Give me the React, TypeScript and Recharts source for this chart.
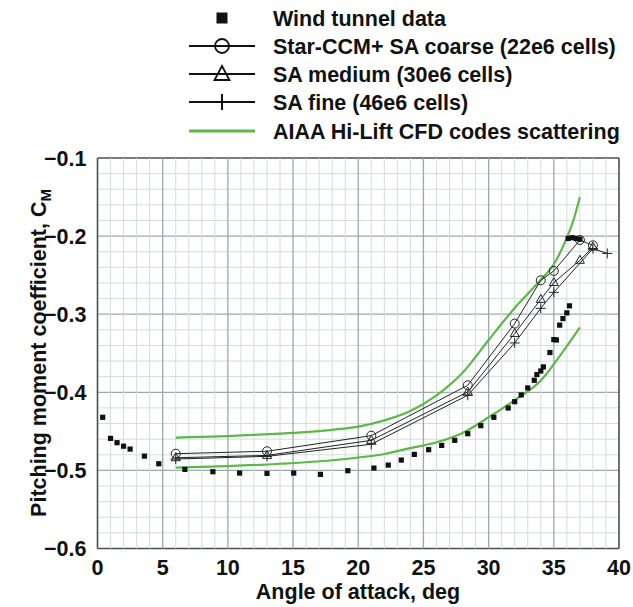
import React from 'react';
import { ComposedChart, Line, Scatter, XAxis, YAxis, CartesianGrid } from 'recharts';

const windTunnel = [
  [0.4, -0.432], [1.0, -0.459], [1.5, -0.4645], [2.0, -0.469], [2.5, -0.4727], [3.6, -0.4817], [4.7, -0.4915],
  [6.7, -0.4987], [8.85, -0.5017], [10.9, -0.5034], [13.0, -0.5038], [15.05, -0.5034], [17.1, -0.5051], [19.2, -0.5004],
  [21.2, -0.497], [22.3, -0.4932], [23.3, -0.4868], [24.3, -0.4795], [25.4, -0.4735], [26.4, -0.468], [27.4, -0.4615],
  [28.4, -0.453], [29.4, -0.4427], [30.4, -0.432], [31.5, -0.4201], [32.0, -0.412], [32.5, -0.4034], [33.0, -0.3944],
  [33.5, -0.3846], [33.7, -0.3773], [34.0, -0.3727], [34.2, -0.3675], [34.7, -0.3491], [35.0, -0.3325], [35.2, -0.333],
  [35.45, -0.314], [35.7, -0.3056], [36.0, -0.2983], [36.2, -0.2893], [36.1, -0.203], [36.4, -0.202], [36.7, -0.203], [37.0, -0.204],
];

const coarse = [
  [6, -0.4786], [13, -0.4755], [21, -0.4555], [28.4, -0.391], [32, -0.312], [34, -0.2566], [35, -0.2446], [37, -0.205], [38, -0.2118],
];
const medium = [
  [6, -0.4838], [13, -0.4808], [21, -0.4615], [28.4, -0.3996], [32, -0.3248], [34, -0.281], [35, -0.2595], [37, -0.231], [38, -0.214],
];
const fine = [
  [6, -0.4855], [13, -0.482], [21, -0.4665], [28.4, -0.4038], [32, -0.3368], [34, -0.2925], [35, -0.272], [38, -0.216], [39.1, -0.2222],
];
const greenUpper = [
  [6, -0.458], [8, -0.457], [10, -0.456], [12, -0.4545], [14, -0.453], [16, -0.451], [18, -0.448], [20, -0.444], [22, -0.436],
  [24, -0.424], [26, -0.404], [28, -0.375], [30, -0.333], [32, -0.292], [34, -0.256], [35, -0.236], [36, -0.202], [36.5, -0.18], [37, -0.15],
];
const greenLower = [
  [6, -0.4965], [10, -0.4945], [14, -0.4915], [18, -0.487], [20, -0.4835], [22, -0.479], [24, -0.4715], [26, -0.464], [28, -0.452],
  [30, -0.432], [32, -0.41], [34, -0.385], [35, -0.364], [36, -0.341], [37, -0.317],
];

const xMajorTicks = [0, 5, 10, 15, 20, 25, 30, 35, 40];
const yMajorTicks = [-0.6, -0.5, -0.4, -0.3, -0.2, -0.1];
const xTicks = Array.from({ length: 41 }, (_, i) => i);
const yTicks = Array.from({ length: 26 }, (_, i) => +(-0.6 + i * 0.02).toFixed(2));

const legendItems = [
  { label: 'Wind tunnel data', kind: 'square' },
  { label: 'Star-CCM+ SA coarse (22e6 cells)', kind: 'circle' },
  { label: 'SA medium (30e6 cells)', kind: 'triangle' },
  { label: 'SA fine (46e6 cells)', kind: 'plus' },
  { label: 'AIAA Hi-Lift CFD codes scattering', kind: 'green' },
];

const toObj = (arr: number[][]) => arr.map(([x, y]) => ({ x, y }));

const FONT = '"Liberation Sans", Arial, Helvetica, sans-serif';
const FS = 21.5;
const GREEN = '#5cb847';
const MINOR = '#cfdedd';
const MAJOR = '#98abab';
const FRAME = '#4a4f4f';

function CircleDot(props: any) {
  const { cx, cy } = props;
  if (cx == null || cy == null) return null;
  return <circle cx={cx} cy={cy} r={4.5} fill="none" stroke="#222" strokeWidth={1} />;
}
function TriDot(props: any) {
  const { cx, cy } = props;
  if (cx == null || cy == null) return null;
  const r = 5;
  return (
    <polygon
      points={`${cx},${cy - r} ${cx - r * 0.9},${cy + r * 0.6} ${cx + r * 0.9},${cy + r * 0.6}`}
      fill="none"
      stroke="#222"
      strokeWidth={1}
    />
  );
}
function PlusDot(props: any) {
  const { cx, cy } = props;
  if (cx == null || cy == null) return null;
  return (
    <g stroke="#222" strokeWidth={1}>
      <line x1={cx - 5} y1={cy} x2={cx + 5} y2={cy} />
      <line x1={cx} y1={cy - 5} x2={cx} y2={cy + 5} />
    </g>
  );
}
function SquareShape(props: any) {
  const { cx, cy } = props;
  if (cx == null || cy == null) return null;
  return <rect x={cx - 2.6} y={cy - 2.6} width={5.2} height={5.2} fill="#111" />;
}

function gridLine(kind: 'h' | 'v') {
  return (props: any) => {
    const { x1, y1, x2, y2 } = props;
    let idx = props.index;
    if (idx == null && typeof props.key === 'string') idx = parseInt(props.key.split('-').pop(), 10);
    const count = kind === 'h' ? yTicks.length : xTicks.length;
    let stroke = MINOR;
    let w = 1;
    if (idx === 0 || idx === count - 1) {
      stroke = FRAME;
      w = 1.6;
    } else if (idx % 5 === 0) {
      stroke = MAJOR;
      w = 1.3;
    }
    return <line key={`${kind}-${idx}`} x1={x1} y1={y1} x2={x2} y2={y2} stroke={stroke} strokeWidth={w} />;
  };
}

function LegendBlock() {
  const rows = [18, 46, 74, 102, 131];
  return (
    <svg width={633} height={150} style={{ position: 'absolute', left: 0, top: 0, display: 'block' }}>
      {legendItems.map((it, i) => {
        const y = rows[i];
        const mx = 222;
        let marker: any = null;
        if (it.kind === 'square') marker = <rect x={mx - 5.5} y={y - 5.5} width={11} height={11} fill="#111" />;
        if (it.kind === 'circle')
          marker = (
            <g>
              <line x1={189} y1={y} x2={255} y2={y} stroke="#111" strokeWidth={2} />
              <circle cx={mx} cy={y} r={7} fill="none" stroke="#111" strokeWidth={1.8} />
            </g>
          );
        if (it.kind === 'triangle')
          marker = (
            <g>
              <line x1={189} y1={y} x2={255} y2={y} stroke="#111" strokeWidth={2} />
              <polygon points={`${mx},${y - 8} ${mx - 7.5},${y + 6} ${mx + 7.5},${y + 6}`} fill="none" stroke="#111" strokeWidth={1.8} />
            </g>
          );
        if (it.kind === 'plus')
          marker = (
            <g>
              <line x1={189} y1={y} x2={255} y2={y} stroke="#111" strokeWidth={2} />
              <line x1={mx} y1={y - 8} x2={mx} y2={y + 8} stroke="#111" strokeWidth={2} />
            </g>
          );
        if (it.kind === 'green') marker = <line x1={189} y1={y} x2={255} y2={y} stroke={GREEN} strokeWidth={3} />;
        return (
          <g key={it.label}>
            {marker}
            <text x={273} y={y} dy="0.36em" fontFamily={FONT} fontWeight="bold" fontSize={FS} fill="#111">
              {it.label}
            </text>
          </g>
        );
      })}
    </svg>
  );
}

function YLabel() {
  const cx = 38;
  const cy = 353;
  return (
    <text
      x={cx}
      y={cy}
      transform={`rotate(-90, ${cx}, ${cy})`}
      textAnchor="middle"
      dy="0.36em"
      fontFamily={FONT}
      fontWeight="bold"
      fontSize={FS}
      fill="#111"
    >
      Pitching moment coefficient, C
      <tspan fontSize={15} dy="5">M</tspan>
    </text>
  );
}

function XLabel() {
  return (
    <text x={358} y={591} textAnchor="middle" dy="0.36em" fontFamily={FONT} fontWeight="bold" fontSize={FS} fill="#111">
      Angle of attack, deg
    </text>
  );
}

const fmtX = (v: number) => (xMajorTicks.includes(v) ? String(v) : '');
const fmtY = (v: number) => {
  const m = yMajorTicks.find((t) => Math.abs(t - v) < 1e-6);
  return m === undefined ? '' : '\u2212' + Math.abs(m).toFixed(1);
};

export default function App() {
  return (
    <div style={{ position: 'absolute', left: 0, top: 0, width: 633, height: 607, background: '#fff' }}>
      <ComposedChart width={633} height={607} margin={{ top: 158, right: 14, bottom: 0, left: 0 }}>
        <CartesianGrid horizontal={gridLine('h')} vertical={gridLine('v')} />
        <XAxis
          type="number"
          dataKey="x"
          domain={[0, 40]}
          ticks={xTicks}
          tickFormatter={fmtX}
          interval={0}
          height={58.5}
          tickLine={false}
          axisLine={false}
          tickSize={0}
          tickMargin={11}
          tick={{ fontFamily: FONT, fontWeight: 'bold', fontSize: FS, fill: '#111' }}
          label={<XLabel />}
          allowDataOverflow
        />
        <YAxis
          type="number"
          dataKey="y"
          domain={[-0.6, -0.1]}
          ticks={yTicks}
          tickFormatter={fmtY}
          interval={0}
          width={97.5}
          tickLine={false}
          axisLine={false}
          tickSize={0}
          tickMargin={11}
          tick={{ fontFamily: FONT, fontWeight: 'bold', fontSize: FS, fill: '#111' }}
          label={<YLabel />}
          allowDataOverflow
        />
        <Line data={toObj(greenUpper)} dataKey="y" type="monotone" stroke={GREEN} strokeWidth={2.2} dot={false} isAnimationActive={false} />
        <Line data={toObj(greenLower)} dataKey="y" type="monotone" stroke={GREEN} strokeWidth={2.2} dot={false} isAnimationActive={false} />
        <Line data={toObj(fine)} dataKey="y" type="linear" stroke="#222" strokeWidth={1} dot={<PlusDot />} isAnimationActive={false} />
        <Line data={toObj(medium)} dataKey="y" type="linear" stroke="#222" strokeWidth={1} dot={<TriDot />} isAnimationActive={false} />
        <Line data={toObj(coarse)} dataKey="y" type="linear" stroke="#222" strokeWidth={1} dot={<CircleDot />} isAnimationActive={false} />
        <Scatter data={toObj(windTunnel)} dataKey="y" shape={<SquareShape />} isAnimationActive={false} />
      </ComposedChart>
      <LegendBlock />
    </div>
  );
}
